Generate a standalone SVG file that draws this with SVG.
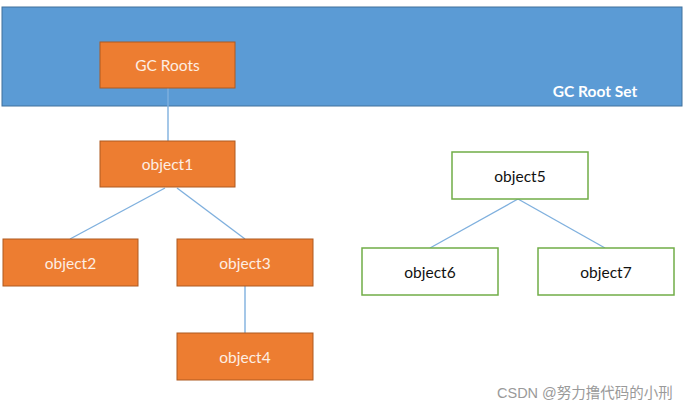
<svg xmlns="http://www.w3.org/2000/svg" width="685" height="410" viewBox="0 0 685 410">
<style>
.set{fill:#5b9bd5;stroke:#41719c;stroke-width:1}
.o{fill:#ed7d31;stroke:#ae5a21;stroke-width:1}
.g{fill:#ffffff;stroke:#70ad47;stroke-width:1.5}
.t{font-family:Lato,"Open Sans",sans-serif;font-size:15.5px;text-anchor:middle;dominant-baseline:central}
.tw{fill:#fdeee3}
.tb{fill:#111111}
.c{stroke:#7fb0de;stroke-width:1.4;fill:none}
.wm{font-family:"Liberation Sans","Noto Sans CJK SC",sans-serif;font-size:14.5px;fill:#9a9a9a}
</style>
<rect width="685" height="410" fill="#ffffff"/>
<g id="gc-root-set">
<rect class="set" x="2" y="7" width="680" height="99"/>
<text x="595" y="91" font-family="Lato,'Open Sans',sans-serif" font-size="15.5" font-weight="bold" fill="#ffffff" text-anchor="middle" dominant-baseline="central">GC Root Set</text>
</g>
<g id="connectors">
<line class="c" x1="168" y1="88" x2="168" y2="141"/>
<line class="c" x1="165" y1="188" x2="70" y2="239"/>
<line class="c" x1="177" y1="188" x2="245" y2="239"/>
<line class="c" x1="245" y1="286" x2="245" y2="333"/>
<line class="c" x1="518" y1="199" x2="430" y2="248"/>
<line class="c" x1="518" y1="199" x2="605" y2="248"/>
</g>
<g id="gc-roots"><rect class="o" x="100" y="42" width="135" height="46"/><text class="t tw" x="167.5" y="65">GC Roots</text></g>
<g id="object1"><rect class="o" x="100" y="141" width="135" height="46"/><text class="t tw" x="167.5" y="164">object1</text></g>
<g id="object2"><rect class="o" x="3" y="239" width="135" height="47"/><text class="t tw" x="70.5" y="262.5">object2</text></g>
<g id="object3"><rect class="o" x="177" y="239" width="136" height="47"/><text class="t tw" x="245" y="262.5">object3</text></g>
<g id="object4"><rect class="o" x="177" y="333" width="136" height="47"/><text class="t tw" x="245" y="356.5">object4</text></g>
<g id="object5"><rect class="g" x="452" y="152" width="136" height="47"/><text class="t tb" x="520" y="175.5">object5</text></g>
<g id="object6"><rect class="g" x="362" y="248" width="136" height="47"/><text class="t tb" x="430" y="271.5">object6</text></g>
<g id="object7"><rect class="g" x="538" y="248" width="136" height="47"/><text class="t tb" x="606" y="271.5">object7</text></g>
<text class="wm" x="497" y="398">CSDN @努力撸代码的小刑</text>
</svg>
